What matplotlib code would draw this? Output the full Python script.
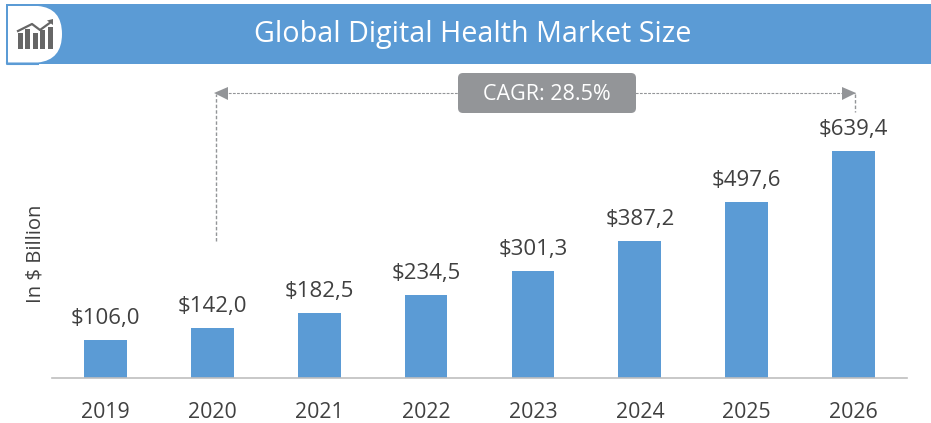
import matplotlib
matplotlib.use('Agg')
import matplotlib.pyplot as plt
from matplotlib.patches import Rectangle, FancyBboxPatch, Polygon, PathPatch
from matplotlib.path import Path

plt.rcParams['font.family'] = ['Open Sans', 'DejaVu Sans']

# Datos
years = ['2019', '2020', '2021', '2022', '2023', '2024', '2025', '2026']
market_size = [106.0, 142.0, 182.5, 234.5, 301.3, 387.2, 497.6, 639.4]
value_labels = ['$106,0', '$142,0', '$182,5', '$234,5', '$301,3', '$387,2', '$497,6', '$639,4']
title = 'Global Digital Health Market Size'
cagr_text = 'CAGR: 28.5%'
y_label = 'In $ Billion'
icon_bars = [16, 20, 16, 19, 22]

BLUE = '#5B9BD5'
GREY = '#939598'
TEXT = '#404040'
W, H = 931, 423

fig = plt.figure(figsize=(W / 100, H / 100), dpi=100)

# Barras
ax = fig.add_axes([52 / W, 1 - 378 / H, 855 / W, 278 / H])
ax.bar(range(len(years)), market_size, width=0.40, color=BLUE)
ax.set_xlim(-0.5, 7.5)
ax.set_ylim(0, 278 * 639.4 / 226.5)
ax.set_xticks(range(len(years)), years, fontsize=15.3, color=TEXT)
ax.set_yticks([])
ax.tick_params(axis='x', length=0, pad=17)
for s in ['top', 'right', 'left']:
    ax.spines[s].set_visible(False)
ax.spines['bottom'].set_color('#BFBFBF')
ax.spines['bottom'].set_linewidth(1.2)
ax.patch.set_alpha(0)
for i, v in enumerate(market_size):
    ax.annotate(value_labels[i], (i, v), xytext=(0, 8), textcoords='offset points',
                ha='center', va='bottom', fontsize=16, color=TEXT)

# Capa en pixeles para encabezado y flecha
ov = fig.add_axes([0, 0, 1, 1])
ov.set_xlim(0, W)
ov.set_ylim(H, 0)
ov.axis('off')
ov.patch.set_alpha(0)
ov.add_patch(Rectangle((6, 4), W - 6, 60, color=BLUE, lw=0))
d = Path([(8, 6), (38, 6), (62, 8), (62, 34), (62, 60), (38, 62.5), (8, 62.5), (8, 6)],
         [Path.MOVETO, Path.LINETO, Path.CURVE3, Path.CURVE3, Path.CURVE3, Path.CURVE3, Path.LINETO, Path.CLOSEPOLY])
ov.add_patch(PathPatch(d, fc='white', ec='none'))
# borde azul bajo el icono
ov.plot([7, 7, 38], [62, 64.5, 64.5], color=BLUE, lw=1.5)
for i, h in enumerate(icon_bars):
    ov.add_patch(Rectangle((18 + i * 7.4, 49 - h), 5, h, color='#666666', lw=0))
ov.plot([18, 32, 40, 51], [31, 24, 30, 22], color='#666666', lw=1.6)
ov.add_patch(Polygon([(47, 20.5), (53, 19), (53, 25)], color='#666666', lw=0))

ov.text(472.5, 34.5, title, color='white', fontsize=20.7, ha='center', va='center')

ov.plot([216, 216], [241, 94], color=GREY, lw=1, ls=(0, (2.5, 1.5)))
ov.plot([216, 855], [93, 93], color=GREY, lw=0.8, ls=(0, (2.5, 1.2)))
ov.plot([855, 855], [94, 112], color=GREY, lw=1, ls=(0, (2.5, 1.5)))
ov.add_patch(Polygon([(214, 93), (228, 87), (228, 100)], color=GREY, lw=0))
ov.add_patch(Polygon([(856, 93), (842, 87), (842, 100)], color=GREY, lw=0))
ov.add_patch(FancyBboxPatch((461, 76), 172, 34, boxstyle='round,pad=3,rounding_size=5',
                            fc=GREY, ec='none', zorder=3))
ov.text(546.5, 94, cagr_text, color='white', fontsize=15.5, ha='center', va='center', zorder=4)

ov.text(36, 254, y_label, color=TEXT, fontsize=14.6, rotation=90, ha='center', va='center')

fig.savefig('out.png', dpi=100)
